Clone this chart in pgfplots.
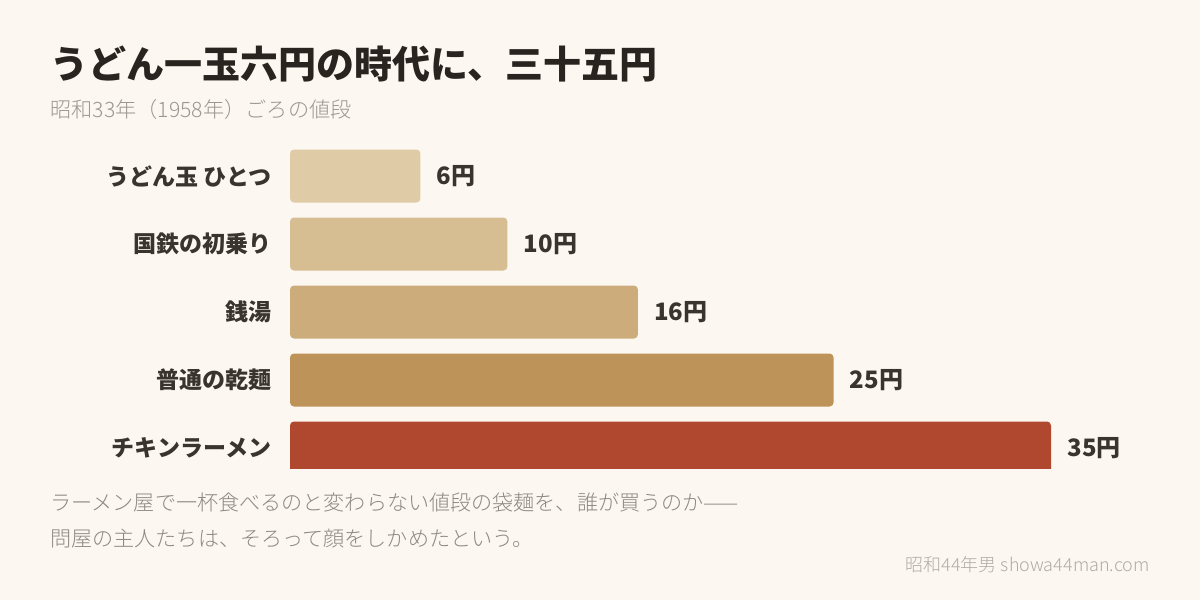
\documentclass[border=0pt]{standalone}
\usepackage{fontspec}
\setmainfont{Noto Sans CJK JP}
\newfontfamily\lightfont{Noto Sans CJK JP}[UprightFont={* Light}]
\usepackage{pgfplots}
\pgfplotsset{compat=1.18}
\definecolor{bgcol}{HTML}{FCF8F1}
\definecolor{barA}{HTML}{DFCBA6}
\definecolor{barB}{HTML}{D6BD92}
\definecolor{barC}{HTML}{CCAC7A}
\definecolor{barD}{HTML}{BE935A}
\definecolor{barE}{HTML}{B04830}
\definecolor{titlecol}{HTML}{2A2420}
\definecolor{labcol}{HTML}{3A342E}
\definecolor{subcol}{HTML}{9C9690}
\definecolor{notecol}{HTML}{8E8882}
\definecolor{credcol}{HTML}{B0ABA4}
\begin{document}
\begin{tikzpicture}
\fill[bgcol] (0pt,0pt) rectangle (600pt,300pt);
\node[anchor=west,inner sep=0pt,text=titlecol,font=\fontsize{19pt}{22pt}\selectfont\bfseries] at (25pt,267.75pt) {うどん一玉六円の時代に、三十五円};
\node[anchor=west,inner sep=0pt,text=subcol,font=\fontsize{10.6pt}{12pt}\selectfont\lightfont] at (25pt,245.5pt) {昭和33年（1958年）ごろの値段};
\begin{axis}[
  at={(145pt,246pt)}, anchor=north west,
  scale only axis, width=434.86pt, height=180pt,
  xbar, bar shift=0pt, bar width=26.5pt,
  xmin=0, xmax=40, ymin=-1, ymax=4.294, y dir=reverse,
  axis line style={draw=none}, tick style={draw=none},
  xtick=\empty, ytick={0,1,2,3,4},
  yticklabels={うどん玉 ひとつ,国鉄の初乗り,銭湯,普通の乾麺,チキンラーメン},
  yticklabel style={inner sep=0pt, xshift=-5pt, text=labcol, font=\fontsize{11.5pt}{13pt}\selectfont\bfseries},
  /pgf/number format/assume math mode=true,
  nodes near coords={\pgfmathprintnumber[assume math mode=true]{\pgfplotspointmeta}円},
  point meta=x,
  every node near coord/.append style={anchor=west, inner sep=0pt, xshift=8pt, text=labcol, font=\fontsize{12pt}{14pt}\selectfont\bfseries},
  every axis plot/.append style={draw=none, rounded corners=2pt},
  clip=true,
]
\addplot[fill=barA] coordinates {(6,0)};
\addplot[fill=barB] coordinates {(10,1)};
\addplot[fill=barC] coordinates {(16,2)};
\addplot[fill=barD] coordinates {(25,3)};
\addplot[fill=barE] coordinates {(35,4)};
\end{axis}
\node[anchor=west,inner sep=0pt,text=notecol,font=\fontsize{10.55pt}{12pt}\selectfont\lightfont] at (25pt,48.75pt) {ラーメン屋で一杯食べるのと変わらない値段の袋麺を、誰が買うのか——};
\node[anchor=west,inner sep=0pt,text=notecol,font=\fontsize{10.55pt}{12pt}\selectfont\lightfont] at (25pt,30.5pt) {問屋の主人たちは、そろって顔をしかめたという。};
\node[anchor=east,inner sep=0pt,text=credcol,font=\fontsize{9pt}{11pt}\selectfont\lightfont] at (575pt,17.5pt) {昭和44年男 showa44man.com};
\end{tikzpicture}
\end{document}
